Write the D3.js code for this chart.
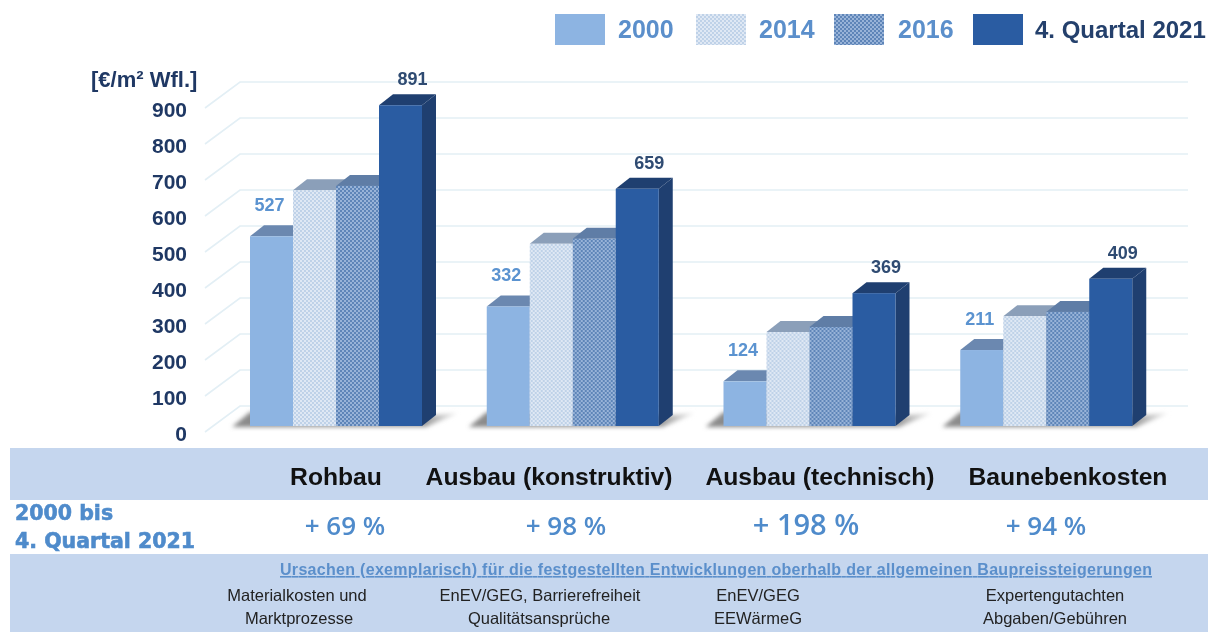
<!DOCTYPE html>
<html>
<head>
<meta charset="utf-8">
<script src="https://cdn.jsdelivr.net/npm/d3@7"></script>
<style>
html, body { margin: 0; padding: 0; background: #fff; }
svg { display: block; filter: blur(0.4px); }
text { font-family: "Liberation Sans", sans-serif; }
</style>
</head>
<body>
<div id="chart"></div>
<script>
var categories = ['Rohbau', 'Ausbau (konstruktiv)', 'Ausbau (technisch)', 'Baunebenkosten'];
var seriesNames = ['2000', '2014', '2016', '4. Quartal 2021'];
var values2000 = [527, 332, 124, 211];
var values2014 = [655, 506, 261, 305];
var values2016 = [667, 520, 275, 317];
var values2021 = [891, 659, 369, 409];
var yTicks = [0, 100, 200, 300, 400, 500, 600, 700, 800, 900];
var changes = ['+ 69 %', '+ 98 %', '+ 198 %', '+ 94 %'];
var rowLabel = ['2000 bis', '4. Quartal 2021'];
var causesTitle = 'Ursachen (exemplarisch) für die festgestellten Entwicklungen oberhalb der allgemeinen Baupreissteigerungen';
var causesRow1 = ['Materialkosten und', 'EnEV/GEG, Barrierefreiheit', 'EnEV/GEG', 'Expertengutachten'];
var causesRow2 = ['Marktprozesse', 'Qualitätsansprüche', 'EEWärmeG', 'Abgaben/Gebühren'];
var unitLabel = '[€/m² Wfl.]';

var allValues = [values2000, values2014, values2016, values2021];

var width = 1208, height = 632;
var depthX = 14, depthY = 11;
var baseY = 426, pxPer900 = 324;

var svg = d3.select('#chart').append('svg')
	.attr('width', width)
	.attr('height', height);

var defs = svg.append('defs');

var blur = defs.append('filter').attr('id', 'shadowBlur')
	.attr('x', '-20%').attr('y', '-100%').attr('width', '140%').attr('height', '300%');
blur.append('feGaussianBlur').attr('stdDeviation', 2.2);

var fade = defs.append('linearGradient').attr('id', 'shadowFade');
fade.append('stop').attr('offset', '0').attr('stop-color', '#8a8a8a');
fade.append('stop').attr('offset', '0.85').attr('stop-color', '#9a9a9a');
fade.append('stop').attr('offset', '1').attr('stop-color', '#f0f0f0');

function dotPattern(id, bg, dot, size, r) {
	var p = defs.append('pattern').attr('id', id)
		.attr('patternUnits', 'userSpaceOnUse')
		.attr('width', size).attr('height', size);
	p.append('rect').attr('width', size).attr('height', size).attr('fill', bg);
	p.append('circle').attr('cx', size / 4).attr('cy', size / 4).attr('r', r).attr('fill', dot);
	p.append('circle').attr('cx', size * 3 / 4).attr('cy', size * 3 / 4).attr('r', r).attr('fill', dot);
}
dotPattern('p2014', '#dfe8f4', '#b0c7e3', 4, 0.9);
dotPattern('p2016', '#98b3d8', '#4a76ae', 4, 1.0);

var frontFill = ['#8db4e2', 'url(#p2014)', 'url(#p2016)', '#2a5ca2'];
var topFill = ['#6b88b0', '#8b9fb9', '#5f7da6', '#1f3f70'];
var sideFill = ['#6b88b0', '#8b9fb9', '#5f7da6', '#1f3f70'];
var labelColor = ['#5b93d0', '#5b93d0', '#5b93d0', '#2f4b72'];

// table bands behind the labels
svg.append('rect').attr('x', 10).attr('y', 448).attr('width', width - 10).attr('height', 52).attr('fill', '#c5d6ee');
svg.append('rect').attr('x', 10).attr('y', 554).attr('width', width - 10).attr('height', 78).attr('fill', '#c5d6ee');

// scales
var y = d3.scaleLinear().domain([0, 900]).range([baseY, baseY - pxPer900]);
var x0 = d3.scaleBand().domain(categories).range([250, 1197]).paddingInner(0).paddingOuter(0);
var groupW = 172;
var x1 = d3.scaleBand().domain(seriesNames).range([0, groupW]);

// back wall grid
var grid = svg.append('g');
var backOffset = -20;
yTicks.forEach(function (t) {
	var gy = y(t) + backOffset;
	grid.append('path')
		.attr('d', 'M205,' + (gy + 26) + 'L240,' + gy + 'L1188,' + gy)
		.attr('fill', 'none')
		.attr('stroke', '#e3eff5')
		.attr('stroke-width', 1.6);
});

// y axis labels
var yAxis = d3.axisLeft(y).tickValues(yTicks).tickSize(0).tickPadding(0);
var axisG = svg.append('g')
	.attr('transform', 'translate(187,8)')
	.call(yAxis);
axisG.select('.domain').remove();
axisG.selectAll('text')
	.style('font-family', '"Liberation Sans", sans-serif')
	.style('font-size', '21px')
	.style('font-weight', 'bold')
	.attr('fill', '#1f3864');

svg.append('text')
	.attr('x', 91).attr('y', 87)
	.style('font-size', '22px').style('font-weight', 'bold')
	.attr('fill', '#1f3864')
	.text(unitLabel);

// bars
categories.forEach(function (cat, c) {
	var g = svg.append('g').attr('transform', 'translate(' + x0(cat) + ',0)');

	// floor shadow
	g.append('path')
		.attr('d', 'M-18,' + (baseY + 1) + 'L0,' + (baseY - 14) + 'L' + (groupW + 14) + ',' + (baseY - 11) + 'L' + (groupW + 36) + ',' + (baseY - 13) + 'L' + (groupW + 4) + ',' + (baseY + 1) + 'Z')
		.attr('fill', 'url(#shadowFade)')
		.attr('filter', 'url(#shadowBlur)');

	seriesNames.forEach(function (s, i) {
		var v = allValues[i][c];
		var bx = x1(s), bw = x1.bandwidth(), top = y(v);

		g.append('path')
			.attr('d', 'M' + bx + ',' + top + 'L' + (bx + depthX) + ',' + (top - depthY) + 'L' + (bx + bw + depthX) + ',' + (top - depthY) + 'L' + (bx + bw) + ',' + top + 'Z')
			.attr('fill', topFill[i]);

		g.append('path')
			.attr('d', 'M' + (bx + bw) + ',' + top + 'L' + (bx + bw + depthX) + ',' + (top - depthY) + 'L' + (bx + bw + depthX) + ',' + (y(0) - depthY) + 'L' + (bx + bw) + ',' + y(0) + 'Z')
			.attr('fill', sideFill[i]);

		g.append('rect')
			.attr('x', bx).attr('y', top)
			.attr('width', bw).attr('height', y(0) - top)
			.attr('fill', frontFill[i]);
	});

	// only first and last series carry a value label
	[0, 3].forEach(function (i) {
		var s = seriesNames[i], v = allValues[i][c];
		g.append('text')
			.attr('x', x1(s) + x1.bandwidth() / 2 + (i === 3 ? 12 : -2))
			.attr('y', y(v) + (i === 3 ? -20 : -25))
			.attr('text-anchor', 'middle')
			.style('font-size', '18px').style('font-weight', 'bold')
			.attr('fill', labelColor[i])
			.text(v);
	});
});

// legend
var legendSwatchX = [555, 696, 834, 973];
var legendTextX = [618, 759, 898, 1035];
var legendTextColor = ['#5b8fcb', '#5b8fcb', '#5b8fcb', '#24406c'];
var legendFill = ['#8db4e2', 'url(#p2014)', 'url(#p2016)', '#2a5ca2'];
seriesNames.forEach(function (s, i) {
	svg.append('rect')
		.attr('x', legendSwatchX[i]).attr('y', 14)
		.attr('width', 50).attr('height', 31)
		.attr('fill', legendFill[i]);
	svg.append('text')
		.attr('x', legendTextX[i]).attr('y', 38)
		.style('font-size', i === 3 ? '24px' : '25px').style('font-weight', 'bold')
		.attr('fill', legendTextColor[i])
		.text(s);
});

// category row, change row, causes
var catX = [336, 549, 820, 1068];
var changeX = [345, 566, 806, 1046];
var cause1X = [297, 540, 758, 1055];
var cause2X = [299, 539, 758, 1055];

categories.forEach(function (cat, i) {
	svg.append('text')
		.attr('x', catX[i]).attr('y', 485)
		.attr('text-anchor', 'middle')
		.style('font-size', '24.7px').style('font-weight', 'bold')
		.attr('fill', '#111')
		.text(cat);
	svg.append('text')
		.attr('x', changeX[i]).attr('y', 535)
		.attr('text-anchor', 'middle')
		.style('font-family', '"Open Sans", sans-serif')
		.style('font-size', i === 2 ? '29px' : '26px').style('font-weight', 600)
		.attr('fill', '#4f8bcb')
		.text(changes[i]);
	svg.append('text')
		.attr('x', cause1X[i]).attr('y', 601)
		.attr('text-anchor', 'middle')
		.style('font-size', '16.5px').attr('fill', '#222')
		.text(causesRow1[i]);
	svg.append('text')
		.attr('x', cause2X[i]).attr('y', 624)
		.attr('text-anchor', 'middle')
		.style('font-size', '16.5px').attr('fill', '#222')
		.text(causesRow2[i]);
});

rowLabel.forEach(function (t, i) {
	svg.append('text')
		.attr('x', 15).attr('y', i === 0 ? 520 : 548)
		.style('font-family', '"DejaVu Sans", sans-serif')
		.style('font-size', '20.5px').style('font-weight', 'bold')
		.attr('fill', '#4f8bcb')
		.attr('stroke', '#4f8bcb').attr('stroke-width', 0.6)
		.text(t);
});

svg.append('text')
	.attr('x', 280).attr('y', 575)
	.attr('textLength', 872)
	.attr('lengthAdjust', 'spacing')
	.style('font-size', '16px').style('font-weight', 'bold')
	.style('text-decoration', 'underline')
	.attr('fill', '#5b8fcb')
	.text(causesTitle);
</script>
</body>
</html>
